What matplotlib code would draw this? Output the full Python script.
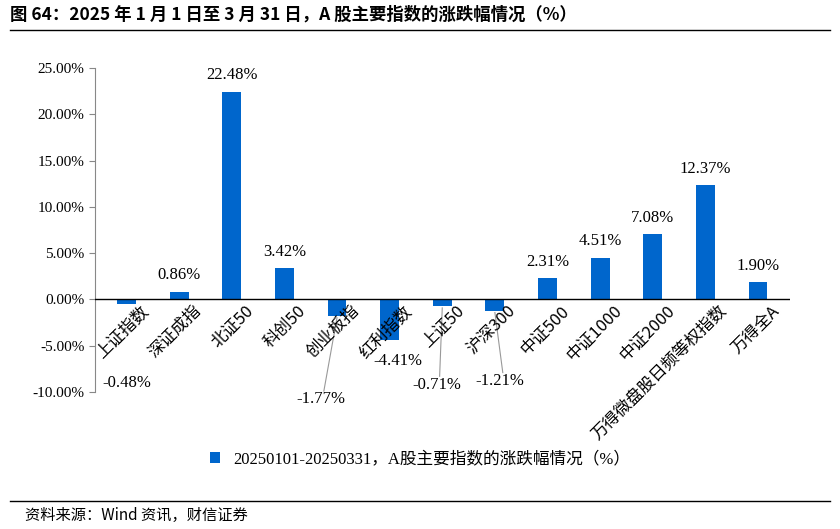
import matplotlib
matplotlib.use("Agg")
import matplotlib.pyplot as plt

plt.rcParams['font.family'] = ['Liberation Serif', 'Noto Sans CJK SC']
plt.rcParams['axes.unicode_minus'] = False

categories = ["上证指数", "深证成指", "北证50", "科创50", "创业板指", "红利指数", "上证50",
              "沪深300", "中证500", "中证1000", "中证2000", "万得微盘股日频等权指数", "万得全A"]
values = [-0.48, 0.86, 22.48, 3.42, -1.77, -4.41, -0.71, -1.21, 2.31, 4.51, 7.08, 12.37, 1.90]
yticks = [-10, -5, 0, 5, 10, 15, 20, 25]
legend_label = "20250101-20250331，A股主要指数的涨跌幅情况（%）"
title = "图 64：2025 年 1 月 1 日至 3 月 31 日，A 股主要指数的涨跌幅情况（%）"
source = "资料来源：Wind 资讯，财信证券"

neg_pos = {0: (0.0, -9.0), 4: (-0.3, -10.8), 5: (0.15, -6.6), 6: (-0.1, -9.2), 7: (0.1, -8.8)}
leader = {4, 6, 7}

color = '#0066CC'
fig = plt.figure(figsize=(8.4, 5.29), dpi=100)
ax = fig.add_axes([0.113, 0.259, 0.827, 0.612])
x = list(range(len(categories)))
ax.bar(x, values, width=0.36, color=color, label=legend_label, zorder=2)
ax.set_xlim(-0.6, len(categories) - 0.4)
ax.set_ylim(-10, 25)
ax.set_yticks(yticks)
ax.set_yticklabels([f"{v:.2f}%" for v in yticks], fontsize=11)
ax.set_xticks([])
for s in ['top', 'right', 'bottom']:
    ax.spines[s].set_visible(False)
ax.spines['left'].set_color('#888888')
ax.tick_params(axis='y', direction='out', color='#888888', length=4)
ax.axhline(0, color='black', lw=1, zorder=3)

for i, (c, v) in enumerate(zip(categories, values)):
    ax.text(i + 0.25, -0.3, c, rotation=45, rotation_mode='anchor', ha='right', va='top',
            fontsize=12, family=['Noto Sans CJK SC'])
    if v >= 0:
        ax.text(i, v + 0.9, f"{v:.2f}%", ha='center', va='bottom', fontsize=12)
    else:
        dx, ty = neg_pos[i]
        ax.text(i + dx, ty, f"{v:.2f}%", ha='center', va='center', fontsize=12)
        if i in leader:
            ax.plot([i + dx + 0.05, i], [ty + 0.9, v - 0.2], color='#999999', lw=0.8)

fig.legend(loc='center', bbox_to_anchor=(0.5, 0.132), frameon=False,
           handlelength=0.6, handleheight=0.6,
           prop={'family': ['Liberation Serif', 'Noto Sans CJK SC'], 'size': 12})

fig.text(0.012, 0.972, title, fontsize=12.5, fontweight='bold', va='center', family=['Noto Sans CJK SC'])
fig.add_artist(plt.Line2D([0.012, 0.988], [0.943, 0.943], color='black', lw=1))
fig.add_artist(plt.Line2D([0.012, 0.988], [0.053, 0.053], color='black', lw=1))
fig.text(0.03, 0.025, source, fontsize=11, style='italic', va='center', family=['Noto Sans CJK SC'])

fig.savefig("out.png", dpi=100)
